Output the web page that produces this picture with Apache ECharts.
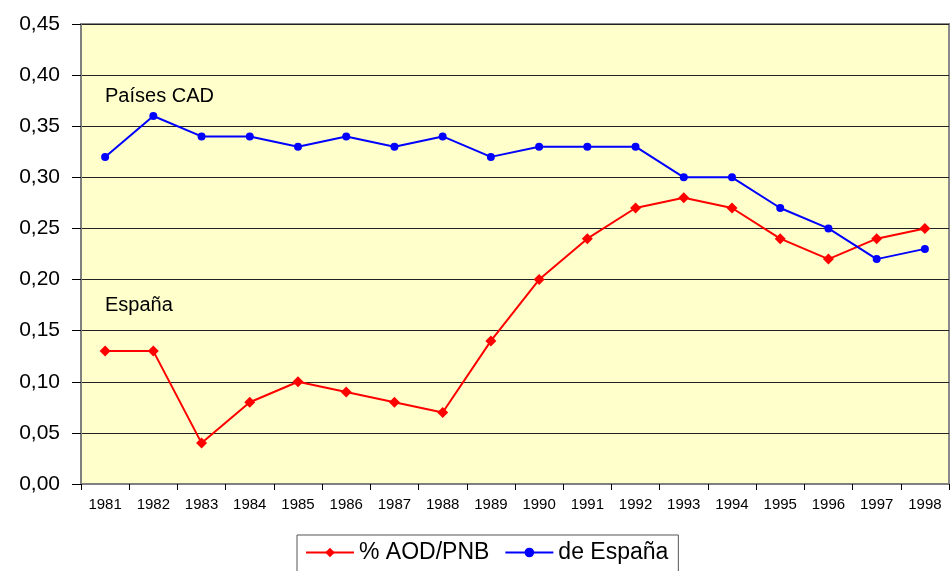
<!DOCTYPE html>
<html><head><meta charset="utf-8">
<script src="https://cdn.jsdelivr.net/npm/echarts@6/dist/echarts.min.js"></script>
<style>html,body{margin:0;padding:0;background:#fff}#c{width:950px;height:571px}</style>
</head><body><div id="c"></div>
<script>
const years = ['1981','1982','1983','1984','1985','1986','1987','1988','1989','1990','1991','1992','1993','1994','1995','1996','1997','1998'];
const espana = [0.13,0.13,0.04,0.08,0.10,0.09,0.08,0.07,0.14,0.20,0.24,0.27,0.28,0.27,0.24,0.22,0.24,0.25];
const paisesCAD = [0.32,0.36,0.34,0.34,0.33,0.34,0.33,0.34,0.32,0.33,0.33,0.33,0.30,0.30,0.27,0.25,0.22,0.23];
const seriesNames = ['% AOD/PNB','de España'];
const annotations = ['Países CAD','España'];

const chart = echarts.init(document.getElementById('c'), null, {renderer:'canvas'});
const font = 'Liberation Sans, Arial, sans-serif';
chart.setOption({
  animation:false,
  backgroundColor:'#fff',
  grid:{left:81,right:1,top:24,bottom:87,show:true,backgroundColor:'#FFFFCC',borderColor:'#8a8a8a',borderWidth:2},
  xAxis:{type:'category',data:years,boundaryGap:true,
    axisLine:{lineStyle:{color:'#808080',width:2}},
    axisTick:{show:true,length:6,lineStyle:{color:'#000'}},
    axisLabel:{color:'#000',fontFamily:font,fontSize:15,margin:13}},
  yAxis:{type:'value',min:0,max:0.45,interval:0.05,
    axisLine:{show:true,lineStyle:{color:'#808080',width:2}},
    axisTick:{show:true,length:9,lineStyle:{color:'#000'}},
    splitLine:{lineStyle:{color:'#222',width:1}},
    axisLabel:{color:'#000',fontFamily:font,fontSize:21,margin:21,
      formatter:v=>v.toFixed(2).replace('.',',')}},
  legend:{data:seriesNames,left:297,top:535,itemGap:15,itemWidth:48,itemHeight:12,
    borderColor:'#555',borderWidth:1,borderRadius:0,padding:[6,10,20,8],
    textStyle:{fontFamily:font,fontSize:23,color:'#000'}},
  graphic:[
    {type:'text',left:105,top:86,style:{text:annotations[0],font:'20px '+font,fill:'#000'}},
    {type:'text',left:105,top:295,style:{text:annotations[1],font:'20px '+font,fill:'#000'}}
  ],
  series:[
    {name:seriesNames[0],type:'line',data:espana,symbol:'diamond',symbolSize:11,
      lineStyle:{color:'#FF0000',width:2},itemStyle:{color:'#FF0000'}},
    {name:seriesNames[1],type:'line',data:paisesCAD,symbol:'circle',symbolSize:8,
      lineStyle:{color:'#0000FF',width:2},itemStyle:{color:'#0000FF'}}
  ]
});
</script></body></html>
